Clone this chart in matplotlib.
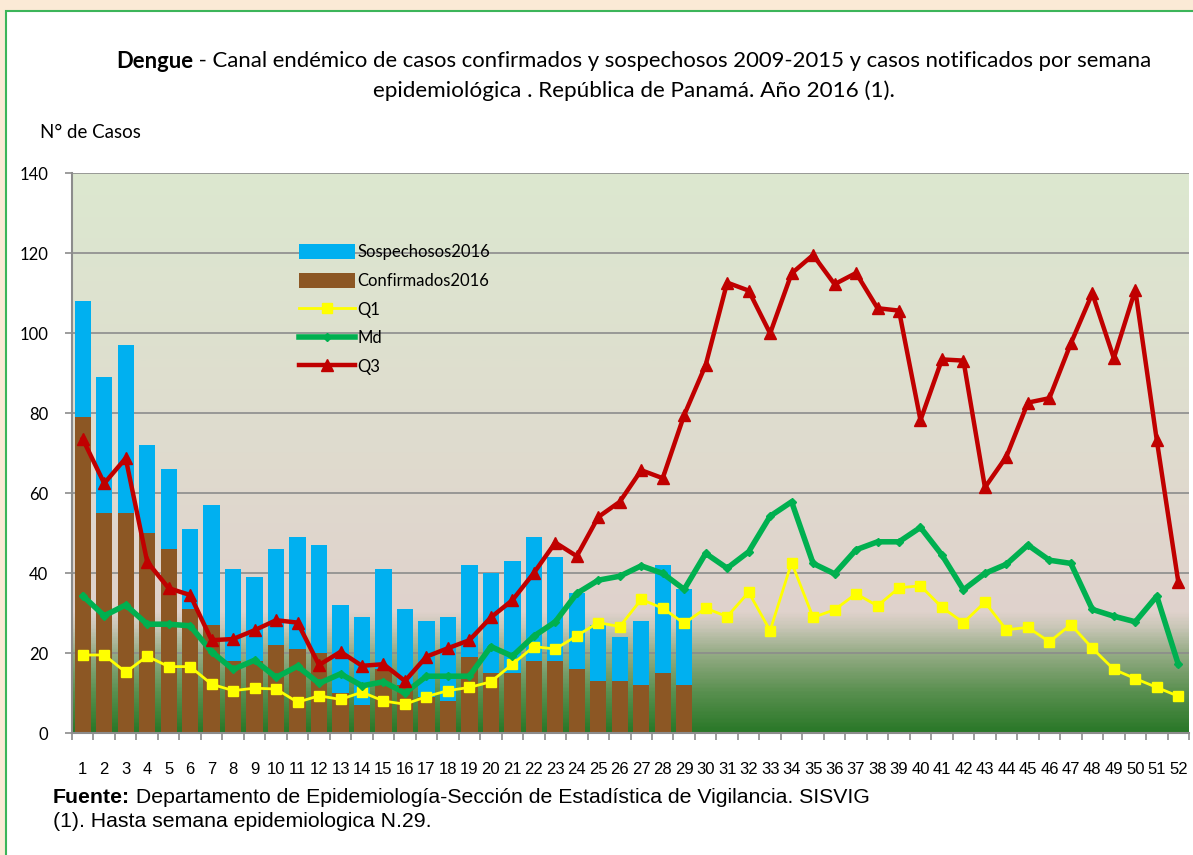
import numpy as np
import matplotlib
matplotlib.use('Agg')
import matplotlib.pyplot as plt
from matplotlib.colors import LinearSegmentedColormap
from matplotlib.patches import Rectangle

# Datos
semanas = list(range(1, 53))
confirmados = [79, 55, 55, 50, 46, 31, 27, 18, 18, 22, 21, 20, 10, 7, 16, 12, 9, 8, 19, 15,
               15, 18, 18, 16, 13, 13, 12, 15, 12]
totales = [108, 89, 97, 72, 66, 51, 57, 41, 39, 46, 49, 47, 32, 29, 41, 31, 28, 29, 42, 40,
           43, 49, 44, 35, 27, 24, 28, 42, 36]
sospechosos = [t - c for t, c in zip(totales, confirmados)]

q1 = [19.5, 19.5, 15.2, 19.2, 16.6, 16.6, 12.2, 10.6, 11.2, 11.0,
      7.7, 9.3, 8.4, 10.2, 8.0, 7.2, 9.1, 10.6, 11.4, 12.8,
      17.2, 21.6, 21.0, 24.3, 27.6, 26.6, 33.4, 31.2, 27.4, 31.2,
      29.1, 35.2, 25.6, 42.6, 28.9, 30.8, 34.8, 31.8, 36.3, 36.8,
      31.4, 27.6, 32.7, 25.8, 26.4, 22.8, 27.1, 21.2, 15.9, 13.6,
      11.4, 9.2]
md = [34.3, 29.3, 32.0, 27.2, 27.2, 26.8, 20.3, 15.9, 18.2, 13.9,
      16.7, 12.4, 14.8, 11.8, 12.8, 10.0, 14.2, 14.2, 14.2, 21.6,
      19.2, 24.2, 27.8, 34.9, 38.2, 39.2, 41.8, 39.9, 35.9, 44.9,
      41.2, 45.3, 54.2, 57.8, 42.4, 39.8, 45.8, 47.8, 47.8, 51.4,
      44.5, 35.8, 39.9, 42.2, 47.0, 43.2, 42.4, 30.9, 29.2, 27.8,
      34.2, 17.2]
q3 = [73.5, 62.4, 68.7, 42.8, 36.2, 34.5, 23.2, 23.5, 25.7, 28.2,
      27.6, 17.0, 20.3, 16.8, 17.2, 13.0, 19.1, 21.2, 23.2, 28.9,
      33.2, 40.0, 47.6, 44.2, 54.0, 57.8, 65.7, 63.7, 79.5, 92.0,
      112.6, 110.6, 99.9, 114.9, 119.5, 112.2, 115.0, 106.2, 105.6, 78.2,
      93.4, 93.1, 61.4, 69.1, 82.6, 83.7, 97.4, 109.9, 93.7, 110.8,
      73.2, 37.8]

W, H = 1193, 855
fig = plt.figure(figsize=(W / 100, H / 100), dpi=100)
fig.patch.set_facecolor('#fbead6')
# marco blanco con borde verde
fig.patches.append(Rectangle((6 / W, -0.1), 1.1, 1 - 11 / H + 0.1, transform=fig.transFigure,
                             facecolor='white', edgecolor='#3cb55a', lw=1.5, zorder=-10))

ax = fig.add_axes([72 / W, (H - 733) / H, 1117 / W, 560 / H])
ax.set_xlim(0.5, 52.5)
ax.set_ylim(0, 140)

# fondo degradado del area de trazado
stops = [(0, '#2a7828'), (10, '#5a9050'), (20, '#98ad88'), (26, '#c8c6b6'),
         (30, '#e0d2cc'), (70, '#dfdbce'), (140, '#dce8d0')]
cmap = LinearSegmentedColormap.from_list('fondo', [(v / 140, c) for v, c in stops])
grad = np.linspace(0, 1, 400).reshape(-1, 1)
ax.imshow(grad, cmap=cmap, aspect='auto', origin='lower', extent=[0.5, 52.5, 0, 140], zorder=0)

ax.set_yticks(range(0, 141, 20))
ax.grid(axis='y', color='#8c8c8c', lw=1.2, zorder=1)

sem_barras = semanas[:len(confirmados)]
ax.bar(sem_barras, confirmados, width=0.76, color='#8c5724', zorder=2, label='Confirmados2016')
ax.bar(sem_barras, sospechosos, bottom=confirmados, width=0.76, color='#00b0f0', zorder=2,
       label='Sospechosos2016')

ax.plot(semanas, q1, color='#ffff00', lw=2, marker='s', ms=7, zorder=3, label='Q1')
ax.plot(semanas, md, color='#00b050', lw=4, marker='D', ms=4, zorder=4, label='Md')
ax.plot(semanas, q3, color='#c00000', lw=3.2, marker='^', ms=9, zorder=5, label='Q3')

for s in ['top', 'right']:
    ax.spines[s].set_visible(False)
for s in ['left', 'bottom']:
    ax.spines[s].set_color('#8c8c8c')
    ax.spines[s].set_linewidth(1.5)

ax.set_xticks(semanas)
ax.set_xticklabels([str(s) for s in semanas], fontsize=12, family='Liberation Sans')
ax.set_xticks(np.arange(0.5, 53, 1), minor=True)
ax.tick_params(axis='x', which='major', length=0, pad=21)
ax.tick_params(axis='x', which='minor', length=5, color='#8c8c8c', width=1.2)
ax.tick_params(axis='y', length=5, color='#8c8c8c', width=1.2, pad=12, labelsize=12)
for t in ax.get_yticklabels():
    t.set_family('Lato')

h, l = ax.get_legend_handles_labels()
orden = [4, 3, 0, 1, 2]
ax.legend([h[i] for i in orden], [l[i] for i in orden], loc='upper left',
          bbox_to_anchor=(0.197, 0.885), frameon=False, prop={'family': 'Lato', 'size': 12},
          handlelength=3.4, handleheight=1.0, handletextpad=0.1, labelspacing=0.75, numpoints=1,
          borderaxespad=0)

fig.canvas.draw()
rend = fig.canvas.get_renderer()


def texto_mixto(x_centro, y, partes, **kw):
    # partes: lista de (texto, peso); centrado en x_centro (pixeles)
    objs = []
    for txt, peso in partes:
        objs.append(fig.text(0, y / H, txt, fontweight=peso, va='center', **kw))
    anchos = [o.get_window_extent(rend).width for o in objs]
    x = x_centro - sum(anchos) / 2
    for o, a in zip(objs, anchos):
        o.set_x(x / W)
        x += a


texto_mixto(634, H - 61, [('Dengue', 'bold'),
                          (' - Canal endémico de casos confirmados y sospechosos 2009-2015 y casos notificados por semana', 'normal')],
            family='Lato', fontsize=15.9)
fig.text(634 / W, 1 - 91 / H, 'epidemiológica . República de Panamá. Año 2016 (1).',
         ha='center', va='center', family='Lato', fontsize=16.2)
fig.text(40 / W, 1 - 133 / H, 'N° de Casos', va='center', family='Lato', fontsize=13.5)

f1 = fig.text(53 / W, 1 - 797 / H, 'Fuente:', fontweight='bold', va='center',
              family='Liberation Sans', fontsize=15.3)
wf = f1.get_window_extent(rend).width
fig.text((53 + wf) / W, 1 - 797 / H, ' Departamento de Epidemiología-Sección de Estadística de Vigilancia. SISVIG',
         va='center', family='Liberation Sans', fontsize=15.3)
fig.text(53 / W, 1 - 821 / H, '(1). Hasta semana epidemiologica N.29.', va='center',
         family='Liberation Sans', fontsize=15.3)

fig.savefig('out.png', dpi=100)
